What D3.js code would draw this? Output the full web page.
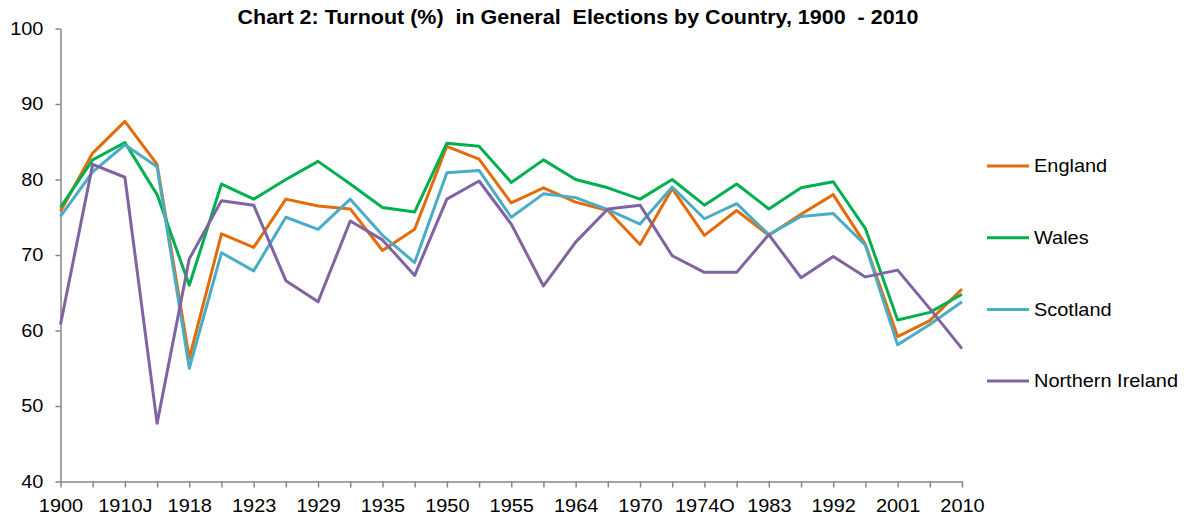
<!DOCTYPE html>
<html>
<head>
<meta charset="utf-8">
<script src="https://cdn.jsdelivr.net/npm/d3@7"></script>
<style>
  body { margin: 0; background: #fff; }
  svg text { font-family: "Liberation Sans", Arial, sans-serif; }
</style>
</head>
<body>
<div class="canvas"></div>
<script>
const elections = ["1900", "1906", "1910J", "1910D", "1918", "1922", "1923", "1924", "1929", "1931",
    "1935", "1945", "1950", "1951", "1955", "1959", "1964", "1966", "1970", "1974F",
    "1974O", "1979", "1983", "1987", "1992", "1997", "2001", "2005", "2010"];
const tickLabels = ["1900", "1910J", "1918", "1923", "1929", "1935", "1950", "1955", "1964", "1970",
    "1974O", "1983", "1992", "2001", "2010"];
const yTicks = [40, 50, 60, 70, 80, 90, 100];

const england = [75.8, 83.5, 87.7, 82.0, 56.3, 72.8, 71.0, 77.4, 76.5, 76.1,
    70.6, 73.4, 84.4, 82.7, 76.9, 78.9, 77.0, 75.9, 71.4, 78.8,
    72.6, 75.9, 72.6, 75.4, 78.0, 71.4, 59.2, 61.3, 65.5];
const wales = [76.3, 82.6, 84.9, 78.0, 66.0, 79.4, 77.4, 80.0, 82.4, 79.4,
    76.3, 75.7, 84.8, 84.4, 79.6, 82.6, 80.0, 78.9, 77.4, 80.0,
    76.6, 79.4, 76.1, 78.9, 79.7, 73.5, 61.4, 62.4, 64.8];
const scotland = [75.1, 81.0, 84.6, 81.7, 55.0, 70.3, 67.9, 75.0, 73.4, 77.4,
    72.6, 69.0, 80.9, 81.2, 75.0, 78.1, 77.6, 76.0, 74.1, 79.0,
    74.8, 76.8, 72.7, 75.1, 75.5, 71.3, 58.1, 60.8, 63.8];
const northernIreland = [60.8, 82.0, 80.3, 47.7, 69.5, 77.2, 76.6, 66.6, 63.8, 74.5,
    72.0, 67.3, 77.4, 79.8, 74.1, 65.9, 71.7, 76.1, 76.6, 69.9,
    67.7, 67.7, 72.7, 67.0, 69.8, 67.1, 68.0, 62.9, 57.6];

const seriesNames = ["England", "Wales", "Scotland", "Northern Ireland"];
const seriesColors = ["#E36C09", "#00B050", "#4BACC6", "#8064A2"];
const series = [england, wales, scotland, northernIreland];

const width = 1189, height = 517;
const plot = {left: 60.5, right: 962, top: 28.5, bottom: 481.5};
const stretch = "scale(1.14,1)"; // the reference text is a bit wider than Arial

const svg = d3.select(".canvas").append("svg")
    .attr("width", width)
    .attr("height", height);

const x = d3.scalePoint()
    .domain(elections)
    .range([plot.left, plot.right]);

const y = d3.scaleLinear()
    .domain([40, 100])
    .range([plot.bottom, plot.top]);

// title
svg.append("text")
    .attr("x", 237.5)
    .attr("y", 24)
    .attr("textLength", 681)
    .attr("lengthAdjust", "spacingAndGlyphs")
    .style("font-size", "20px")
    .style("font-weight", "bold")
    .style("white-space", "pre")
    .text("Chart 2: Turnout (%)  in General  Elections by Country, 1900  - 2010");

// y axis
const yAxisGroup = svg.append("g")
    .attr("transform", `translate(${plot.left}, 0)`)
    .call(d3.axisLeft(y).tickValues(yTicks).tickSize(5).tickSizeOuter(0).tickPadding(10));

// x axis
const xAxisGroup = svg.append("g")
    .attr("transform", `translate(0, ${plot.bottom})`)
    .call(d3.axisBottom(x).tickSize(6).tickSizeOuter(0).tickPadding(6)
        .tickFormat(d => tickLabels.includes(d) ? d : ""));

[yAxisGroup, xAxisGroup].forEach(g => {
    g.select(".domain").attr("stroke", "#868686").attr("stroke-width", 1.5);
    g.selectAll(".tick line").attr("stroke", "#868686").attr("stroke-width", 1.5);
    g.selectAll(".tick text")
        .attr("fill", "#000")
        .attr("transform", stretch)
        .style("font-family", "\"Liberation Sans\", Arial, sans-serif")
        .style("font-size", "17.5px");
});
xAxisGroup.selectAll(".tick text").attr("dy", "1.05em");

// lines
const line = d3.line()
    .x((d, i) => x(elections[i]))
    .y(d => y(d));

svg.append("g").selectAll("path")
    .data(series)
    .enter()
    .append("path")
    .attr("d", d => line(d))
    .attr("fill", "none")
    .attr("stroke", (d, i) => seriesColors[i])
    .attr("stroke-width", 3)
    .attr("stroke-linejoin", "round");

// legend
const legendGroup = svg.append("g").attr("transform", "translate(987, 166)");
const gap = 71.7;
legendGroup.selectAll("line")
    .data(seriesNames)
    .enter()
    .append("line")
    .attr("x1", 0)
    .attr("x2", 42)
    .attr("y1", (d, i) => i * gap)
    .attr("y2", (d, i) => i * gap)
    .attr("stroke", (d, i) => seriesColors[i])
    .attr("stroke-width", 3);

legendGroup.selectAll("text")
    .data(seriesNames)
    .enter()
    .append("text")
    .attr("transform", (d, i) => `translate(47, ${i * gap}) ${stretch}`)
    .attr("dy", "0.35em")
    .style("font-size", "17.5px")
    .text(d => d);
</script>
</body>
</html>
